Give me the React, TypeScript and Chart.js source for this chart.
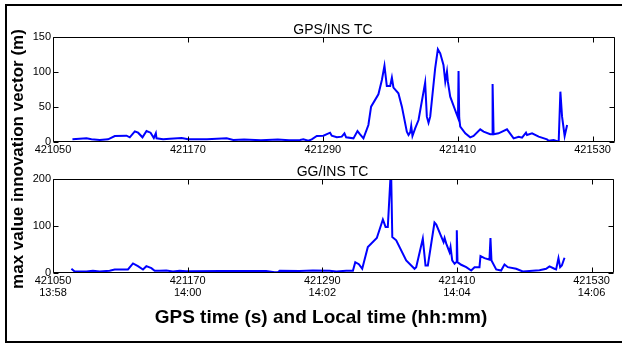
import React, { useEffect, useRef } from 'react';
import { Chart, registerables } from 'chart.js';

Chart.register(...registerables);

// ---- data ----
const timeTicks = [421050, 421170, 421290, 421410, 421530];
const localTimes = ['13:58', '14:00', '14:02', '14:04', '14:06'];
const gpsInsYTicks = [0, 50, 100, 150];
const ggInsYTicks = [0, 100, 200];

const gpsInsTime = [
  421067.3, 421079.8, 421084.2, 421091.6, 421099, 421105, 421115.4, 421118.3, 421122.8, 421125.7,
  421129.6, 421133.2, 421136.8, 421139.7, 421141.5, 421142.1, 421148, 421154, 421164.4, 421170.3,
  421187, 421204.5, 421210.4, 421220, 421235, 421250, 421260, 421269.8, 421272.7, 421277.2,
  421280.2, 421284.7, 421290.6, 421296.5, 421298, 421302.5, 421306.9, 421309.3, 421310.8, 421317.3,
  421320.9, 421323.2, 421326.2, 421330.6, 421333, 421339.5, 421342.6, 421344.9, 421347, 421350,
  421351.5, 421352.9, 421357.3, 421360.4, 421364.8, 421366.3, 421367.8, 421368.7, 421369.8, 421372.2,
  421375.2, 421381.1, 421382.6, 421384.1, 421385.6, 421390, 421392.4, 421394.5, 421397.4, 421399,
  421400.5, 421401.3, 421403.4, 421409.4, 421410.3, 421410.8, 421411.4, 421412.3, 421416.8, 421421.2,
  421424.2, 421430.1, 421433.1, 421439, 421440.6, 421441.1, 421442, 421446.4, 421453.9, 421459.8,
  421464.3, 421467.3, 421470.8, 421471.7, 421476.2, 421482.1, 421489.5, 421491, 421495.4, 421499.9,
  421501.4, 421502.9, 421505.2, 421507.4,
];
const gpsInsValue = [
  3.8, 5.2, 3.8, 2.9, 3.8, 8.6, 9, 6.7, 15.2, 13.3,
  6.7, 15.7, 13.3, 5.7, 12.4, 5.2, 3.8, 4.7, 5.7, 3.8,
  3.8, 5.2, 2.9, 3.5, 2.5, 3.5, 2.5, 2.9, 3.8, 1.9,
  3.8, 8.6, 9, 13.3, 9, 6.7, 7.6, 12.4, 6.7, 5.2,
  15.7, 11, 5.2, 24.3, 50.5, 68.1, 88.6, 109, 80, 80,
  91.9, 77.6, 69.5, 50.5, 14.8, 10, 13.8, 22.9, 8.6, 19.5,
  31.4, 84.8, 36.2, 27.6, 36.2, 105.2, 132.4, 126.7, 110, 86.2,
  100.5, 86.2, 64.8, 38.6, 34.8, 101.4, 34.8, 21.9, 12.4, 6.7,
  8.6, 18.1, 14.8, 11, 11, 82.9, 11, 12.4, 18.1, 5.2,
  7.6, 6.2, 13.3, 10, 12.4, 7.6, 3.8, 1.9, 2.9, 0.5,
  71.9, 36.2, 8.6, 24.3,
];

const ggInsTime = [
  421066.4, 421069.3, 421079.8, 421085.6, 421091.6, 421100.5, 421105, 421116.8, 421121.3, 421125.7,
  421130.2, 421133.2, 421137.7, 421140.6, 421145.1, 421151, 421156.9, 421162.9, 421168.8, 421200,
  421240, 421247.5, 421250.4, 421252, 421269.8, 421281.6, 421296.5, 421302.5, 421311.4, 421317.3,
  421319.4, 421322.6, 421325.6, 421330.6, 421338.6, 421344, 421346.4, 421348.4, 421350.6, 421351.5,
  421352.4, 421355.9, 421364.8, 421372.2, 421373.7, 421379.6, 421382, 421384.1, 421390, 421391.6,
  421398.1, 421399, 421400.5, 421403.4, 421404.3, 421405.8, 421407.9, 421409.4, 421409.9, 421410.5,
  421413.8, 421418.3, 421422.7, 421425.7, 421430.1, 421431, 421434.6, 421439, 421439.9, 421440.8,
  421445, 421449.4, 421452.4, 421455.4, 421462.8, 421468.7, 421477.6, 421483.6, 421489.5, 421492.5,
  421496.9, 421498.4, 421500.5, 421502, 421503.5, 421505.9,
];
const ggInsValue = [
  9, 3.2, 3.2, 4.7, 3.2, 4.7, 7.5, 7.5, 20.3, 14.5,
  7.5, 14.5, 10.3, 4.7, 4.7, 5.3, 3.2, 4.7, 3.9, 4.5,
  4, 1.7, 1.7, 4.7, 4, 5.3, 4.7, 3.2, 4.7, 4.7,
  23.1, 18.8, 9, 55.2, 74.4, 113.8, 98, 98, 195.7, 195.7,
  76.6, 69.5, 26.7, 9, 12.4, 73.2, 16, 16, 107.4, 103.1,
  65.9, 74.4, 62.5, 44.5, 55.2, 26.7, 19.7, 23.1, 90.9, 23.1,
  17.5, 12.4, 5.3, 12.4, 12.4, 35.9, 31.7, 28.2, 74.4, 26.7,
  7.5, 5.3, 18.2, 12.4, 9, 3.2, 4.7, 6, 9, 13.9,
  9, 7.5, 31.7, 12.4, 16, 32.5,
];

const FONT = '"Liberation Sans", Arial, Helvetica, sans-serif';

const framePlugin = {
  id: 'frame',
  afterDatasetsDraw(chart: any) {
    const { ctx, chartArea: a, scales } = chart;
    ctx.save();
    ctx.strokeStyle = '#000';
    ctx.lineWidth = 1;
    const L = Math.round(a.left) + 0.5;
    const R = Math.round(a.right) - 0.5;
    const T = Math.round(a.top) + 0.5;
    const B = Math.round(a.bottom) - 0.5;
    ctx.beginPath();
    ctx.rect(L, T, R - L, B - T);
    const len = 5;
    scales.x.ticks.forEach((t: any) => {
      const px = Math.round(scales.x.getPixelForValue(t.value)) + 0.5;
      ctx.moveTo(px, B); ctx.lineTo(px, B - len);
      ctx.moveTo(px, T); ctx.lineTo(px, T + len);
    });
    scales.y.ticks.forEach((t: any) => {
      const py = Math.round(scales.y.getPixelForValue(t.value)) + 0.5;
      ctx.moveTo(L, py); ctx.lineTo(L + len, py);
      ctx.moveTo(R, py); ctx.lineTo(R - len, py);
    });
    ctx.stroke();
    ctx.restore();
  },
  afterDraw(chart: any, _args: any, opts: any) {
    const { ctx, chartArea: a } = chart;
    ctx.save();
    ctx.fillStyle = '#000';
    ctx.font = '14px ' + FONT;
    ctx.textAlign = 'center';
    ctx.textBaseline = 'alphabetic';
    ctx.fillText(opts.title, (a.left + a.right) / 2 - 1, a.top - 3);
    ctx.restore();
  },
};

type PanelProps = {
  title: string;
  times: number[];
  values: number[];
  yTicks: number[];
  top: number;
  height: number;
  padTop: number;
  padRight: number;
  xAxisHeight: number;
  withLocal: boolean;
};

function Panel(p: PanelProps) {
  const ref = useRef<HTMLCanvasElement | null>(null);
  useEffect(() => {
    const tickFont = { family: FONT, size: 11, lineHeight: 1.1 };
    const chart = new Chart(ref.current as HTMLCanvasElement, {
      type: 'line',
      data: {
        datasets: [
          {
            data: p.times.map((t, i) => ({ x: t, y: p.values[i] })),
            borderColor: '#0000ff',
            borderWidth: 2,
            pointRadius: 0,
            tension: 0,
            fill: false,
          },
        ],
      },
      options: {
        responsive: false,
        animation: false,
        devicePixelRatio: 1,
        events: [],
        layout: { padding: { left: 0, right: p.padRight, top: p.padTop, bottom: 0 } },
        plugins: {
          legend: { display: false },
          tooltip: { enabled: false },
          title: { display: false },
          frame: { title: p.title },
        } as any,
        scales: {
          x: {
            type: 'linear',
            min: timeTicks[0],
            max: 421550,
            grid: { display: false, drawTicks: false },
            border: { display: false },
            afterBuildTicks: (s: any) => {
              s.ticks = timeTicks.map((v) => ({ value: v }));
            },
            afterFit: (s: any) => {
              s.height = p.xAxisHeight;
            },
            ticks: {
              autoSkip: false,
              maxRotation: 0,
              minRotation: 0,
              padding: 2,
              color: '#000',
              font: tickFont,
              callback: (_v: any, i: number) =>
                p.withLocal ? [String(timeTicks[i]), localTimes[i]] : String(timeTicks[i]),
            },
          },
          y: {
            type: 'linear',
            min: p.yTicks[0],
            max: p.yTicks[p.yTicks.length - 1],
            grid: { display: false, drawTicks: false },
            border: { display: false },
            afterBuildTicks: (s: any) => {
              s.ticks = p.yTicks.map((v) => ({ value: v }));
            },
            afterFit: (s: any) => {
              s.width = 53;
            },
            ticks: {
              padding: 2,
              color: '#000',
              font: tickFont,
              callback: (v: any) => String(v),
            },
          },
        },
      } as any,
      plugins: [framePlugin as any],
    });
    return () => chart.destroy();
  }, []);
  return (
    <canvas
      ref={ref}
      width={622}
      height={p.height}
      style={{ position: 'absolute', left: 0, top: p.top, width: 622, height: p.height, display: 'block' }}
    />
  );
}

export default function App() {
  return (
    <div
      style={{
        position: 'absolute',
        left: 0,
        top: 0,
        width: 622,
        height: 343,
        background: '#fff',
        overflow: 'hidden',
        fontFamily: FONT,
      }}
    >
      <Panel
        title="GPS/INS TC"
        times={gpsInsTime}
        values={gpsInsValue}
        yTicks={gpsInsYTicks}
        top={0}
        height={162}
        padTop={37}
        padRight={7}
        xAxisHeight={20}
        withLocal={false}
      />
      <Panel
        title="GG/INS TC"
        times={ggInsTime}
        values={ggInsValue}
        yTicks={ggInsYTicks}
        top={162}
        height={181}
        padTop={17}
        padRight={8}
        xAxisHeight={70}
        withLocal={true}
      />
      <div
        style={{
          position: 'absolute',
          left: 5,
          top: 4,
          width: 640,
          height: 339,
          borderLeft: '2px solid #000',
          borderTop: '2px solid #000',
          borderBottom: '2px solid #000',
          boxSizing: 'border-box',
          pointerEvents: 'none',
        }}
      />
      <div
        style={{
          position: 'absolute',
          left: 18,
          top: 159,
          transform: 'translate(-50%, -50%) rotate(-90deg)',
          whiteSpace: 'nowrap',
          fontWeight: 'bold',
          fontSize: 17,
          lineHeight: '20px',
          color: '#000',
        }}
      >
        max value innovation vector (m)
      </div>
      <div
        style={{
          position: 'absolute',
          left: 0,
          top: 306,
          width: 642,
          textAlign: 'center',
          whiteSpace: 'nowrap',
          fontWeight: 'bold',
          fontSize: 19,
          lineHeight: '22px',
          color: '#000',
        }}
      >
        GPS time (s) and Local time (hh:mm)
      </div>
    </div>
  );
}
